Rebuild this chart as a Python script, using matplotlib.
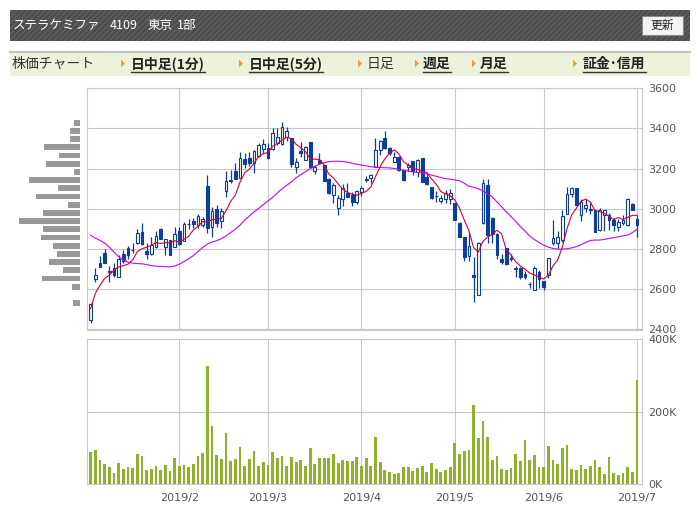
import matplotlib
matplotlib.use("Agg")
import matplotlib.pyplot as plt
from matplotlib.patches import Rectangle, Polygon
import numpy as np

plt.rcParams['font.family'] = ['DejaVu Sans']
plt.rcParams['hatch.linewidth'] = 1.2

JP = ['Noto Sans CJK JP', 'DejaVu Sans']

# ---- daily data, 2019/1/4 - 2019/7/1 ----
opens = [2449, 2652, 2730, 2780, 2690, 2705, 2662, 2778, 2806, 2797,
         2828, 2883, 2790, 2777, 2811, 2899, 2811, 2843, 2811, 2889,
         2841, 2927, 2939, 2919, 2918, 3113, 2908, 2999, 2941, 3087,
         3142, 3188, 3155, 3246, 3254, 3230, 3264, 3296, 3301, 3296,
         3326, 3321, 3356, 3351, 3210, 3288, 3245, 3331, 3190, 3245,
         3216, 3150, 3069, 3004, 3047, 3080, 3069, 3035, 3085, 3145,
         3152, 3210, 3293, 3351, 3301, 3235, 3259, 3193, 3206, 3238,
         3185, 3251, 3160, 3107, 3066, 3037, 3047, 3049, 3027, 2932,
         2858, 2765, 2670, 2571, 2930, 3118, 2957, 2874, 2753, 2803,
         2755, 2705, 2708, 2675, 2627, 2596, 2684, 2642, 2670, 2828,
         2831, 2845, 2977, 3072, 3102, 2969, 3002, 2999, 2994, 2894,
         2969, 2969, 2947, 2911, 2928, 2919, 3024, 2952]
highs = [2532, 2708, 2765, 2800, 2718, 2729, 2770, 2798, 2815, 2828,
         2899, 2928, 2828, 2858, 2889, 2903, 2850, 2845, 2908, 2911,
         2936, 2951, 2956, 2974, 2960, 3168, 3010, 3019, 3002, 3188,
         3193, 3226, 3281, 3279, 3281, 3293, 3329, 3346, 3326, 3401,
         3401, 3431, 3406, 3352, 3251, 3331, 3315, 3332, 3218, 3279,
         3222, 3155, 3127, 3068, 3123, 3127, 3085, 3095, 3113, 3163,
         3173, 3351, 3343, 3387, 3306, 3284, 3262, 3195, 3226, 3240,
         3246, 3252, 3176, 3108, 3090, 3069, 3093, 3097, 3030, 2936,
         2862, 2886, 2762, 2836, 3148, 3147, 2958, 2881, 2775, 2805,
         2778, 2715, 2712, 2692, 2637, 2715, 2695, 2643, 2758, 2944,
         2889, 2997, 3110, 3107, 3103, 3047, 3047, 3035, 2995, 3002,
         2997, 2981, 2957, 2952, 2969, 3052, 3028, 2972]
lows = [2433, 2635, 2712, 2732, 2638, 2659, 2660, 2730, 2753, 2781,
        2823, 2820, 2750, 2770, 2803, 2850, 2770, 2772, 2810, 2820,
        2840, 2898, 2903, 2903, 2911, 2878, 2858, 2911, 2903, 3057,
        3130, 3150, 3155, 3201, 3213, 3181, 3259, 3276, 3250, 3295,
        3318, 3320, 3339, 3210, 3181, 3259, 3244, 3205, 3173, 3222,
        3138, 3075, 3030, 2970, 3014, 3058, 3014, 3025, 3064, 3135,
        3130, 3208, 3268, 3300, 3268, 3233, 3190, 3140, 3188, 3168,
        3160, 3133, 3120, 3047, 3032, 3030, 3027, 3024, 2944, 2858,
        2742, 2742, 2537, 2570, 2925, 2831, 2831, 2753, 2728, 2720,
        2742, 2659, 2650, 2649, 2604, 2595, 2604, 2596, 2654, 2820,
        2803, 2836, 2977, 3060, 3017, 2941, 2986, 2977, 2885, 2889,
        2891, 2894, 2891, 2889, 2919, 2916, 2994, 2861]
closes = [2526, 2670, 2712, 2732, 2688, 2672, 2753, 2741, 2770, 2795,
          2878, 2825, 2777, 2820, 2866, 2850, 2848, 2773, 2874, 2823,
          2927, 2925, 2924, 2967, 2948, 2907, 2991, 2928, 2991, 3138,
          3140, 3150, 3251, 3223, 3226, 3289, 3318, 3321, 3251, 3379,
          3356, 3406, 3389, 3221, 3231, 3276, 3310, 3210, 3206, 3228,
          3140, 3080, 3117, 3053, 3102, 3060, 3035, 3088, 3105, 3147,
          3168, 3293, 3338, 3301, 3279, 3259, 3193, 3143, 3218, 3190,
          3243, 3135, 3123, 3052, 3064, 3054, 3080, 3077, 2944, 2861,
          2762, 2815, 2659, 2828, 3127, 2870, 2874, 2773, 2737, 2725,
          2753, 2703, 2662, 2662, 2625, 2708, 2650, 2612, 2757, 2853,
          2858, 2964, 3072, 3102, 3019, 3035, 3019, 2997, 2886, 2994,
          2994, 2944, 2919, 2936, 2944, 3047, 2994, 2919]
ma5 = [2504, 2579, 2620, 2654, 2670, 2695, 2711, 2717, 2725, 2746,
       2787, 2802, 2809, 2819, 2833, 2828, 2832, 2831, 2842, 2834,
       2849, 2864, 2895, 2913, 2938, 2934, 2947, 2948, 2953, 2991,
       3038, 3069, 3134, 3180, 3198, 3228, 3261, 3275, 3281, 3312,
       3325, 3343, 3356, 3350, 3321, 3305, 3285, 3250, 3247, 3246,
       3219, 3173, 3154, 3124, 3098, 3082, 3073, 3068, 3078, 3087,
       3109, 3160, 3210, 3249, 3276, 3294, 3274, 3235, 3218, 3201,
       3197, 3186, 3182, 3149, 3123, 3086, 3075, 3065, 3044, 3003,
       2945, 2892, 2808, 2785, 2838, 2860, 2872, 2894, 2876, 2796,
       2772, 2738, 2716, 2701, 2681, 2672, 2661, 2651, 2670, 2716,
       2746, 2809, 2901, 2970, 3003, 3038, 3049, 3034, 2991, 2986,
       2978, 2963, 2947, 2957, 2947, 2958, 2968, 2968]
ma25 = [2869, 2855, 2843, 2830, 2810, 2785, 2762, 2745, 2735, 2730,
        2728, 2727, 2723, 2718, 2715, 2714, 2712, 2712, 2716, 2725,
        2738, 2752, 2768, 2788, 2808, 2825, 2835, 2842, 2852, 2866,
        2882, 2900, 2920, 2945, 2965, 2985, 3003, 3022, 3040, 3058,
        3080, 3100, 3118, 3135, 3155, 3170, 3185, 3200, 3212, 3222,
        3230, 3235, 3237, 3237, 3236, 3232, 3227, 3222, 3218, 3214,
        3210, 3208, 3206, 3205, 3204, 3201, 3197, 3193, 3188, 3184,
        3181, 3179, 3174, 3168, 3162, 3156, 3150, 3148, 3144, 3140,
        3128, 3112, 3108, 3100, 3090, 3075, 3060, 3035, 3010, 2985,
        2962, 2938, 2913, 2890, 2865, 2848, 2833, 2820, 2810, 2803,
        2800, 2800, 2802, 2806, 2812, 2822, 2833, 2843, 2845, 2845,
        2848, 2853, 2857, 2861, 2866, 2870, 2882, 2899]
volumes = [87600, 93000, 65700, 54800, 46600, 30000, 57500, 41000, 46600, 43800,
           82000, 76700, 38300, 41000, 49300, 38300, 52000, 35600, 71200, 49300,
           52000, 46600, 54800, 76700, 84900, 326000, 159000, 79400, 68500, 142000,
           63000, 68500, 101000, 49300, 68500, 90400, 49300, 60300, 52000, 87600,
           71200, 76700, 49300, 74000, 60300, 65700, 49300, 98600, 54800, 71200,
           71200, 71200, 82000, 57500, 65700, 63000, 63000, 74000, 49300, 71200,
           49300, 131000, 60300, 38300, 33000, 27400, 30000, 46600, 46600, 35600,
           43800, 49300, 33000, 57500, 41000, 33000, 38300, 46600, 112000, 82000,
           90400, 93000, 219000, 126000, 175000, 131000, 65700, 76700, 41000, 38300,
           43800, 82000, 63000, 120500, 65700, 79400, 46600, 46600, 104000, 65700,
           54800, 98600, 106800, 41000, 38300, 52000, 41000, 49300, 65700, 46600,
           27400, 74000, 30000, 24600, 30000, 46600, 33000, 287600]

month_idx = [19, 38, 58, 78, 97, 117]
month_labels = ["2019/2", "2019/3", "2019/4", "2019/5", "2019/6", "2019/7"]
price_ticks = [2400, 2600, 2800, 3000, 3200, 3400, 3600]
vol_ticks = [0, 200000, 400000]
vol_labels = ["0K", "200K", "400K"]

# price-by-volume profile (relative amounts)
profile_price = [3429, 3389, 3347, 3307, 3266, 3225, 3185, 3144, 3103, 3062,
                 3021, 2980, 2940, 2899, 2858, 2817, 2776, 2735, 2695, 2654,
                 2613, 2572, 2531]
profile_vol = [6, 10, 10, 36, 21, 34, 6, 51, 22, 44,
               12, 37, 61, 37, 39, 27, 23, 31, 17, 38,
               8, 0, 7]

BLUE = '#0c3e9e'
HOLLOW = '#fcfad8'
GRID = '#c8c8c8'
LABEL = '#555555'
W, H = 699, 525


def px_box(x0, y0, x1, y1):
    return [x0 / W, 1 - y1 / H, (x1 - x0) / W, (y1 - y0) / H]


fig = plt.figure(figsize=(W / 100, H / 100), dpi=100)
fig.patch.set_facecolor('white')

# background layer in pixel coordinates for the page furniture
bg = fig.add_axes([0, 0, 1, 1])
bg.set_xlim(0, W)
bg.set_ylim(H, 0)
bg.axis('off')

bg.add_patch(Rectangle((10, 10), 680, 31, facecolor='#4c4c4c', edgecolor='#5e5e5e',
                       hatch='//////', lw=0))
head = [("ステラケミファ", 13), ("4109", 110), ("東京", 147), ("1部", 177)]
for s, hx in head:
    bg.text(hx, 25.5, s, color='white', fontsize=9, family=JP, va='center', ha='left')
bg.add_patch(Rectangle((642, 16), 41, 19, facecolor='#f3f3f3', edgecolor='#8a8a8a', lw=0.8))
bg.text(662.5, 25.5, "更新", color='#222222', fontsize=8.5, family=JP, va='center', ha='center')

bg.add_patch(Rectangle((10, 52), 680, 24, facecolor='#edf2dc', lw=0))
bg.plot([10, 690], [51.5, 51.5], color='#c4c4c4', lw=1.6)

menu = [("株価チャート", 12, False, None),
        ("日中足(1分)", 131, True, 121),
        ("日中足(5分)", 249, True, 239),
        ("日足", 367, False, 358),
        ("週足", 423, True, 415),
        ("月足", 480, True, 472),
        ("証金･信用", 583, True, 573)]
links = []
for s, mx, bold, tri in menu:
    t = bg.text(mx, 63.5, s, fontsize=10, family=JP, va='center', ha='left',
                color='#222222' if bold else '#333333',
                fontweight='bold' if bold else 'normal')
    if tri is not None:
        bg.add_patch(Polygon([[tri, 59.5], [tri, 67.5], [tri + 4, 63.5]],
                             closed=True, facecolor='#f0a030', lw=0))
    if bold:
        links.append(t)

fig.canvas.draw()
for t in links:
    bb = t.get_window_extent()
    bg.plot([bb.x0, bb.x1], [72, 72], color='#333333', lw=1.0)

x = np.arange(len(closes))
o = np.array(opens)
c = np.array(closes)
up = c >= o
body_lo = np.minimum(o, c)
body_h = np.maximum(np.abs(c - o), 1.5)

# ---- price panel ----
ax = fig.add_axes(px_box(87.3, 88.3, 641.7, 329.5))
ax.set_xlim(-0.71, 118.0)
ax.set_ylim(2400, 3600)
for p in price_ticks:
    ax.axhline(p, color=GRID, lw=0.8, zorder=0)
for m in month_idx:
    ax.axvline(m, color=GRID, lw=0.8, zorder=0)
ax.vlines(x, lows, highs, color=BLUE, lw=0.9, zorder=3)
ax.bar(x[up], body_h[up], bottom=body_lo[up], width=0.6, facecolor=HOLLOW,
       edgecolor=BLUE, lw=0.8, zorder=4)
ax.bar(x[~up], body_h[~up], bottom=body_lo[~up], width=0.6, facecolor=BLUE,
       edgecolor=BLUE, lw=0.8, zorder=4)
ax.plot(x, ma25, color='#cc00ff', lw=0.8, zorder=5)
ax.plot(x, ma5, color='#d8003a', lw=0.8, zorder=6)
ax.set_xticks(month_idx)
ax.set_xticklabels([])
ax.set_yticks(price_ticks)
ax.set_yticklabels([str(p) for p in price_ticks])
ax.yaxis.tick_right()
ax.tick_params(axis='both', length=0, labelsize=8, labelcolor=LABEL, pad=4.5)
for sp in ax.spines.values():
    sp.set_color(GRID)
    sp.set_linewidth(0.8)

# ---- volume profile on the left ----
axp = fig.add_axes(px_box(19, 88.3, 80, 329.5), sharey=ax)
axp.barh(profile_price, profile_vol, height=29, color='#999999', lw=0)
axp.set_xlim(61, 0)
axp.axis('off')

# ---- volume panel ----
av = fig.add_axes(px_box(87.3, 339.3, 641.7, 484))
av.set_xlim(-0.71, 118.0)
av.set_ylim(0, 400000)
av.axhline(200000, color=GRID, lw=0.8, zorder=0)
for m in month_idx:
    av.axvline(m, color=GRID, lw=0.8, zorder=0)
av.bar(x, volumes, width=0.6, color='#8db32c', lw=0, zorder=3)
av.set_xticks(month_idx)
av.set_xticklabels(month_labels)
av.set_yticks(vol_ticks)
av.set_yticklabels(vol_labels)
av.yaxis.tick_right()
av.tick_params(axis='y', length=0, labelsize=8, labelcolor=LABEL, pad=4.5)
av.tick_params(axis='x', length=0, labelsize=8, labelcolor=LABEL, pad=6.5)
for sp in av.spines.values():
    sp.set_color(GRID)
    sp.set_linewidth(0.8)

fig.savefig('out.png', dpi=100, facecolor='white')
